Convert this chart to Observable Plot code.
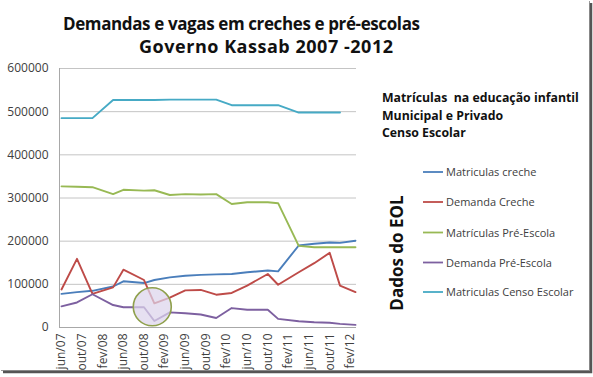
<!DOCTYPE html>
<html><head><meta charset="utf-8">
<script src="https://cdn.jsdelivr.net/npm/d3@7"></script>
<script src="https://cdn.jsdelivr.net/npm/@observablehq/plot@0.6"></script>
<style>
body{margin:0;background:#fff;}
#wrap{position:relative;width:593px;height:377px;overflow:hidden;font-family:"Open Sans",sans-serif;}
#wrap svg{position:absolute;left:0;top:0;}
</style></head><body><div id="wrap"></div>
<script>
// observation dates (year-month)
const dates = ["2007-06","2007-09","2007-12","2008-04","2008-06","2008-10","2008-12","2009-03","2009-06","2009-09",
               "2009-12","2010-03","2010-06","2010-10","2010-12","2011-04","2011-07","2011-10","2011-12","2012-03"];
const seriesNames = ["Matriculas creche","Demanda Creche","Matrículas Pré-Escola","Demanda Pré-Escola","Matriculas Censo Escolar"];
const seriesColors = ["#4a7ebb","#be4b48","#98b954","#7d60a0","#46aac5"];
const matriculasCreche = [78000,82000,85000,95000,107000,103000,110000,116000,120000,122000,123000,124000,128000,132000,130000,190000,194000,197000,196000,201000];
const demandaCreche    = [88000,159000,78000,93000,134000,110000,56000,69000,86000,87000,76000,80000,97000,124000,99000,128000,149000,173000,97000,82000];
const matriculasPre    = [327000,326000,325000,309000,319000,317000,318000,307000,309000,308000,309000,286000,290000,290000,288000,189000,186000,186000,186000,186000];
const demandaPre       = [49000,58000,77000,52000,47000,47000,15000,35000,33000,30000,22000,45000,41000,41000,20000,14500,12000,11000,8500,6000];
const censoEscolar     = [485000,485000,485000,527000,527000,527000,527000,528000,528000,528000,528000,515000,515000,515000,515000,498000,498000,498000,498000,null];
const tickDates  = ["2007-06","2007-10","2008-02","2008-06","2008-10","2009-02","2009-06","2009-10","2010-02","2010-06","2010-10","2011-02","2011-06","2011-10","2012-02"];
const tickLabels = ["jun/07","out/07","fev/08","jun/08","out/08","fev/09","jun/09","out/09","fev/10","jun/10","out/10","fev/11","jun/11","out/11","fev/12"];
const yTicks = [0,100000,200000,300000,400000,500000,600000];
const highlightDate = ["2008-11"], highlightValue = [48000];

const mi = s => { const [y,m] = s.split("-").map(Number); return (y-2007)*12 + (m-6) + (s===highlightDate[0]?0.6:0); };
const allSeries = [matriculasCreche, demandaCreche, matriculasPre, demandaPre, censoEscolar];
const rows = [];
allSeries.forEach((vals, k) => vals.forEach((v, i) => rows.push({serie: seriesNames[k], m: mi(dates[i]), v})));
const tickIdx = tickDates.map(mi);
const labelOf = new Map(tickIdx.map((t,i)=>[t, tickLabels[i]]));
const xDomain = [-0.39, 57.2];

const chart = Plot.plot({
  width: 593, height: 377,
  marginLeft: 59, marginRight: 237, marginTop: 68, marginBottom: 50,
  style: {fontFamily: "'Open Sans', sans-serif", background: "transparent"},
  x: {type: "linear", domain: xDomain},
  y: {domain: [0, 600000]},
  color: {domain: seriesNames, range: seriesColors},
  marks: [
    Plot.gridY(yTicks, {stroke: "#c4c4c4", strokeOpacity: 1}),
    Plot.ruleX([xDomain[0]], {stroke: "#a8a8a8", y1: 0, y2: 600000}),
    Plot.ruleY([0], {stroke: "#a8a8a8"}),
    Plot.lineY(rows, {x: "m", y: "v", z: "serie", stroke: "serie", strokeWidth: 1.9, defined: d => d.v != null}),
    Plot.dot(highlightDate.map((d,i)=>({m: mi(d), v: highlightValue[i]})), {x: "m", y: "v", r: 19, fill: "#ddd4ec", fillOpacity: 0.72, stroke: "#8fa04c", strokeWidth: 1.6}),
    Plot.axisY(yTicks, {tickSize: 0, tickPadding: 11, fontSize: 12, fill: "#404040", tickFormat: d => String(d), label: null}),
    Plot.axisX(tickIdx, {tickSize: 0, tickPadding: 6, tickRotate: -90, fontSize: 12, fill: "#404040", tickFormat: d => labelOf.get(d), label: null})
  ]
});
const wrap = document.getElementById("wrap");
wrap.appendChild(chart);

// overlay texts
const ns = "http://www.w3.org/2000/svg";
const ov = document.createElementNS(ns, "svg");
ov.setAttribute("width", 593); ov.setAttribute("height", 377);
ov.style.fontFamily = "'Open Sans', sans-serif";
function txt(x, y, s, attrs) {
  const t = document.createElementNS(ns, "text");
  t.setAttribute("x", x); t.setAttribute("y", y); t.textContent = s;
  for (const k in attrs) t.setAttribute(k, attrs[k]);
  t.style.whiteSpace = "pre";
  ov.appendChild(t); return t;
}
const titleLines = ["Demandas e vagas em creches e pré-escolas", "Governo Kassab 2007 -2012"];
txt(63, 29.5, titleLines[0], {"font-size": 17, "font-weight": "bold", fill: "#111", textLength: 357, lengthAdjust: "spacing"});
txt(139, 53, titleLines[1], {"font-size": 18, "font-weight": "bold", fill: "#111", textLength: 254, lengthAdjust: "spacing"});
const noteLines = ["Matrículas  na educação infantil", "Municipal e Privado", "Censo Escolar"];
noteLines.forEach((s, i) => txt(382, 102 + i*17.5, s, {"font-size": 12.3, "font-weight": "bold", fill: "#111"}));
const legendY = [172, 202, 232.5, 262.5, 292];
seriesNames.forEach((s, i) => {
  const l = document.createElementNS(ns, "line");
  l.setAttribute("x1", 423); l.setAttribute("x2", 443);
  l.setAttribute("y1", legendY[i]); l.setAttribute("y2", legendY[i]);
  l.setAttribute("stroke", seriesColors[i]); l.setAttribute("stroke-width", 1.8);
  ov.appendChild(l);
  txt(446, legendY[i] + 4, s, {"font-size": 11, fill: "#404040"});
});
txt(0, 0, "Dados do EOL", {"font-size": 17, "font-weight": "bold", fill: "#111", "text-anchor": "middle", transform: "translate(403,253) rotate(-90)"});
// frame with shadow
const fr = document.createElementNS(ns, "path");
fr.setAttribute("d", "M589.5,1 V370.5 H1"); fr.setAttribute("fill", "none"); fr.setAttribute("stroke", "#9a9a9a");
ov.appendChild(fr);
const sh = document.createElementNS(ns, "path");
sh.setAttribute("d", "M591,3 V372 H3"); sh.setAttribute("fill", "none"); sh.setAttribute("stroke", "#555"); sh.setAttribute("stroke-width", 2.5);
ov.appendChild(sh);
wrap.appendChild(ov);
</script></body></html>
